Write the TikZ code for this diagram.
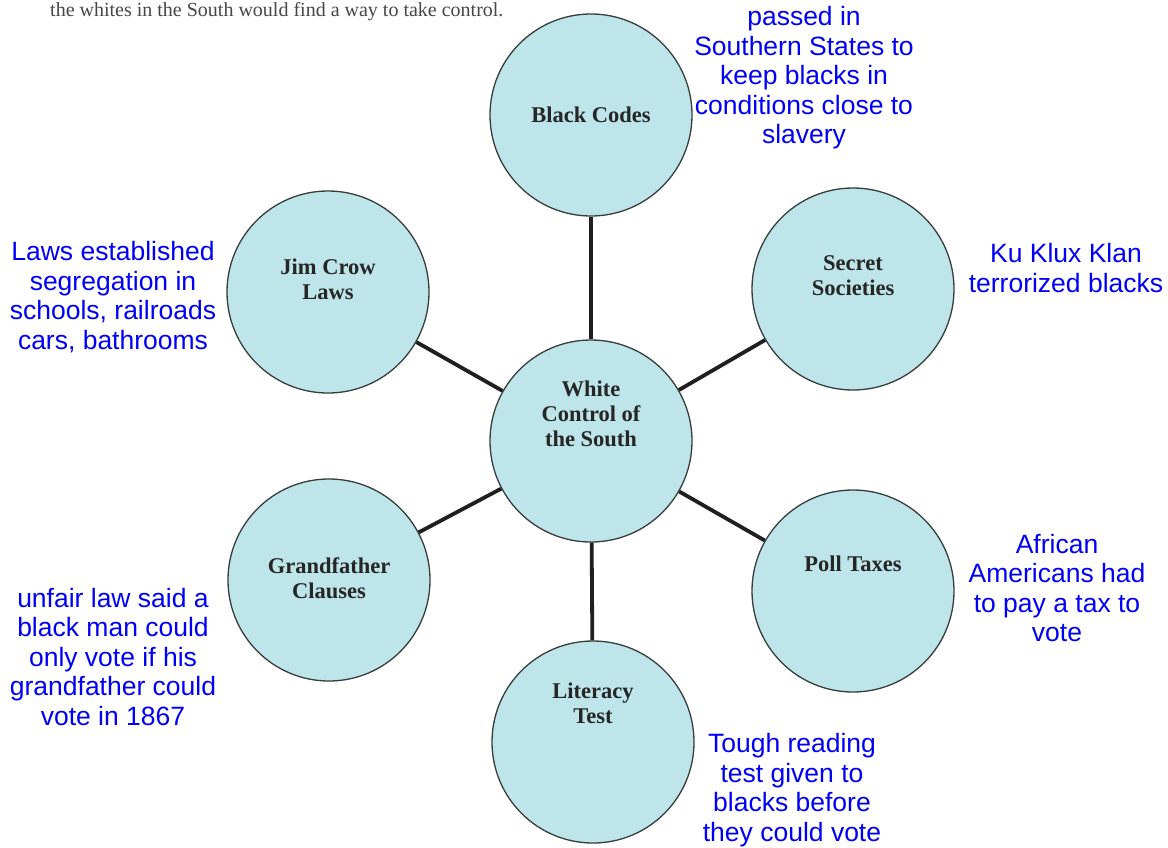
\documentclass[tikz,border=0pt]{standalone}
\usepackage{fontspec}
\setmainfont{Liberation Serif}
\newfontfamily\notefont{Liberation Sans}
\usetikzlibrary{positioning}
\definecolor{bubblefill}{RGB}{189,229,234}
\definecolor{bubbleline}{RGB}{55,60,60}
\definecolor{notecolor}{RGB}{0,0,245}
\definecolor{bookgray}{RGB}{70,70,70}
\tikzset{
  bubble/.style={circle,draw=bubbleline,line width=1.3pt,fill=bubblefill,
    minimum size=202pt,inner sep=0pt},
  bubbletext/.style={font=\fontsize{22.5}{25}\selectfont\bfseries,
    text=black!85,align=center},
  note/.style={font=\notefont\fontsize{26.5}{29.5}\selectfont,
    text=notecolor,align=center},
  spoke/.style={line width=3.8pt,draw=black!88}
}
\begin{document}
\begin{tikzpicture}[x=1pt,y=-1pt]
\useasboundingbox[fill=white] (0,0) rectangle (1168,847);
% book text at the top
\node[anchor=west,text=bookgray,font=\fontsize{20}{22}\selectfont,inner sep=0pt]
  (book) at (50,12) {the whites in the South would find a way to take control.};
% circles
\node[bubble] (ctr) at (591,441) {};
\node[bubble] (bc) at (591,115) {};
\node[bubble] (jc) at (328,292) {};
\node[bubble] (ss) at (853,289) {};
\node[bubble] (gf) at (329,580) {};
\node[bubble] (pt) at (853,591) {};
\node[bubble] (lt) at (593,742) {};
% spokes
\foreach \x in {bc,jc,ss,gf,pt,lt} {\draw[spoke] (ctr) -- (\x);}
% circle texts
\node[bubbletext] (ctr-t) at (591,414) {White\\Control of\\the South};
\node[bubbletext] (bc-t) at (591,115) {Black Codes};
\node[bubbletext] (jc-t) at (328,279) {Jim Crow\\Laws};
\node[bubbletext] (ss-t) at (853,276) {Secret\\Societies};
\node[bubbletext] (gf-t) at (329,578) {Grandfather\\Clauses};
\node[bubbletext] (pt-t) at (853,564) {Poll Taxes};
\node[bubbletext] (lt-t) at (593,703) {Literacy\\Test};
% notes
\node[note] (bc-n) at (804,78) {passed in\\Southern States to\\keep blacks in\\conditions close to\\slavery};
\node[note] (jc-n) at (113,297) {Laws established\\segregation in\\schools, railroads\\cars, bathrooms};
\node[note] (ss-n) at (1066,268) {Ku Klux Klan\\terrorized blacks};
\node[note] (pt-n) at (1057,588) {African\\Americans had\\to pay a tax to\\vote};
\node[note] (gf-n) at (113,657) {unfair law said a\\black man could\\only vote if his\\grandfather could\\vote in 1867};
\node[note] (lt-n) at (792,790) {Tough reading\\test given to\\blacks before\\they could vote};
\end{tikzpicture}
\end{document}
